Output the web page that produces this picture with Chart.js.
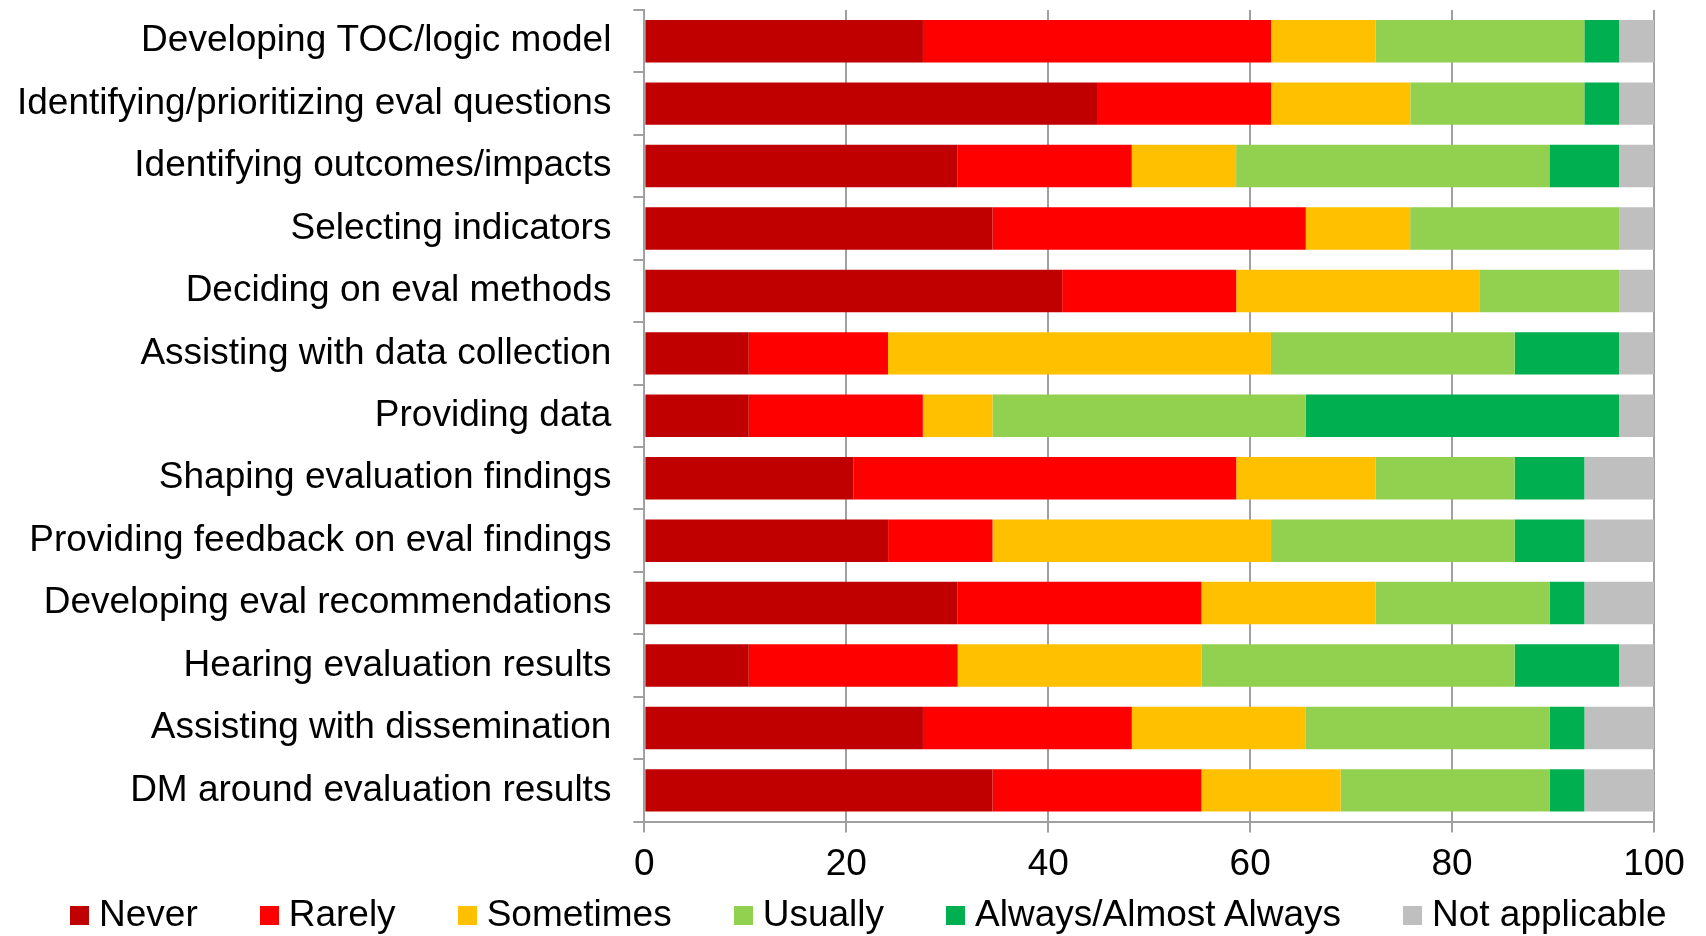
<!DOCTYPE html>
<html>
<head>
<meta charset="utf-8">
<script src="https://cdn.jsdelivr.net/npm/chart.js@4/dist/chart.umd.min.js"></script>
<style>
  html, body { margin: 0; padding: 0; background: #fff; }
  #wrap { width: 1706px; height: 936px; position: relative; overflow: hidden; }
  #legend { position: absolute; left: 70px; top: 892px; height: 44px; display: flex; align-items: center;
            font-family: 'Liberation Sans', Arial, sans-serif; font-size: 37px; color: #000; white-space: nowrap; }
  .item { display: flex; align-items: center; margin-right: 62px; line-height: 44px; }
  .box { width: 19px; height: 19px; margin-right: 10px; margin-top: 3px; }
</style>
</head>
<body>
<div id="wrap"><canvas id="c" width="1706" height="936"></canvas><div id="legend"></div></div>
<script>
const categories = [
  "Developing TOC/logic model",
  "Identifying/prioritizing eval questions",
  "Identifying outcomes/impacts",
  "Selecting indicators",
  "Deciding on eval methods",
  "Assisting with data collection",
  "Providing data",
  "Shaping evaluation findings",
  "Providing feedback on eval findings",
  "Developing eval recommendations",
  "Hearing evaluation results",
  "Assisting with dissemination",
  "DM around evaluation results"
];
const seriesNames = ["Never", "Rarely", "Sometimes", "Usually", "Always/Almost Always", "Not applicable"];
const never     = [27.59, 44.83, 31.03, 34.48, 41.38, 10.34, 10.34, 20.69, 24.14, 31.03, 10.34, 27.59, 34.48];
const rarely    = [34.48, 17.24, 17.24, 31.03, 17.24, 13.79, 17.24, 37.93, 10.34, 24.14, 20.69, 20.69, 20.69];
const sometimes = [10.34, 13.79, 10.34, 10.34, 24.14, 37.93,  6.90, 13.79, 27.59, 17.24, 24.14, 17.24, 13.79];
const usually   = [20.69, 17.24, 31.03, 20.69, 13.79, 24.14, 31.03, 13.79, 24.14, 17.24, 31.03, 24.14, 20.69];
const always    = [ 3.45,  3.45,  6.90,  0.00,  0.00, 10.34, 31.03,  6.90,  6.90,  3.45, 10.34,  3.45,  3.45];
const notApplicable = [3.45, 3.45, 3.45, 3.45, 3.45, 3.45, 3.45, 6.90, 6.90, 6.90, 3.45, 6.90, 6.90];
const xTicks = [0, 20, 40, 60, 80, 100];

const colors = ["#C00000", "#FF0000", "#FFC000", "#92D050", "#00B050", "#BFBFBF"];
const seriesValues = [never, rarely, sometimes, usually, always, notApplicable];

const FONT = "'Liberation Sans', Arial, sans-serif";
const GRID = "#a0a0a0";

const chart = new Chart(document.getElementById('c'), {
  type: 'bar',
  data: {
    labels: categories,
    datasets: seriesNames.map((n, i) => ({
      label: n,
      data: seriesValues[i],
      backgroundColor: colors[i],
      borderWidth: 0,
      barPercentage: 0.68,
      categoryPercentage: 1.0
    }))
  },
  options: {
    indexAxis: 'y',
    responsive: false,
    animation: false,
    devicePixelRatio: 1,
    layout: { padding: { left: 17, right: 52, top: 10, bottom: 39 } },
    scales: {
      x: {
        stacked: true,
        min: 0, max: 100,
        afterBuildTicks: (axis) => { axis.ticks = xTicks.map(v => ({ value: v })); },
        ticks: { font: { family: FONT, size: 37 }, color: '#000', padding: 10, maxRotation: 0 },
        grid: { color: GRID, lineWidth: 2, tickLength: 11, drawTicks: true },
        border: { display: true, color: GRID, width: 2 }
      },
      y: {
        stacked: true,
        afterFit: (scale) => {
          scale.width -= scale.options.ticks.padding;
          scale.paddingTop = 0;
          scale.paddingBottom = 0;
        },
        ticks: { font: { family: FONT, size: 37 }, color: '#000', padding: 22, autoSkip: false },
        grid: { drawOnChartArea: false, drawTicks: true, tickLength: 11, color: GRID, lineWidth: 2, offset: true },
        border: { display: true, color: GRID, width: 2 }
      }
    },
    plugins: {
      legend: { display: false },
      tooltip: { enabled: false }
    }
  }
});

// HTML legend built from the chart's datasets
const legend = document.getElementById('legend');
chart.data.datasets.forEach(ds => {
  const item = document.createElement('div');
  item.className = 'item';
  const box = document.createElement('span');
  box.className = 'box';
  box.style.background = ds.backgroundColor;
  const txt = document.createElement('span');
  txt.textContent = ds.label;
  item.appendChild(box);
  item.appendChild(txt);
  legend.appendChild(item);
});
</script>
</body>
</html>
